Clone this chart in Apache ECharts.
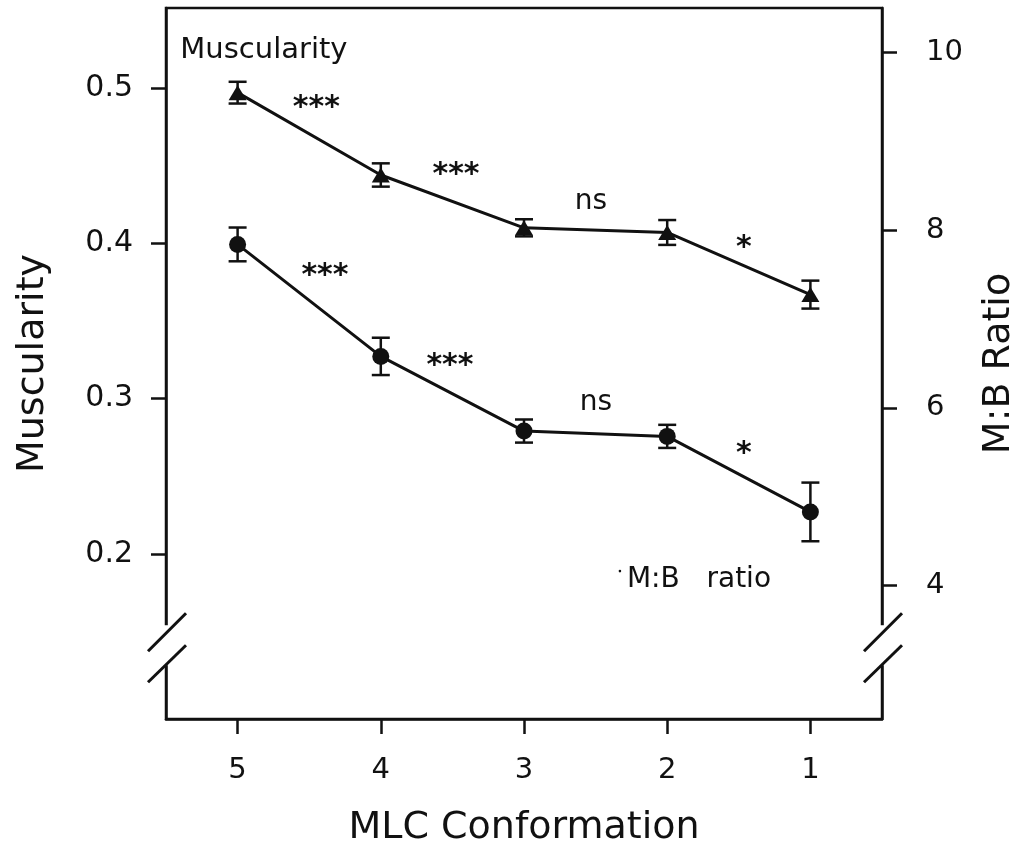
<!DOCTYPE html>
<html>
<head>
<meta charset="utf-8">
<script src="https://cdn.jsdelivr.net/npm/echarts@6/dist/echarts.min.js"></script>
<style>
  html, body { margin: 0; padding: 0; background: #fff; }
  #chart { width: 1020px; height: 858px; }
</style>
</head>
<body>
<div id="chart"></div>
<script>
// MLC conformation scores (x axis runs 5 -> 1)
const conformation = [5, 4, 3, 2, 1]
// Muscularity (left axis), mean and SE
const muscularity = [0.497, 0.444, 0.410, 0.407, 0.367]
const muscularityErr = [0.007, 0.0075, 0.0055, 0.008, 0.009]
// M:B ratio (right axis), mean and SE
const mbRatio = [7.84, 6.58, 5.74, 5.68, 4.83]
const mbRatioErr = [0.19, 0.21, 0.13, 0.13, 0.33]
// tick labels
const xTicks = [1, 2, 3, 4, 5]
const leftTicks = [0.2, 0.3, 0.4, 0.5]
const rightTicks = [4, 6, 8, 10]
// significance labels between neighbouring scores
const sigTop = ['***', '***', 'ns', '*']
const sigBottom = ['***', '***', 'ns', '*']

const FONT = 'DejaVu Sans'
const INK = '#111'

let chart = echarts.init(document.getElementById('chart'))

function pairs(ys) {
  return conformation.map((x, i) => [x, ys[i]])
}
function errData(ys, es) {
  return conformation.map((x, i) => [x, ys[i] - es[i], ys[i] + es[i]])
}
function errorBars(yAxisIndex, data) {
  return {
    type: 'custom',
    xAxisIndex: 0,
    yAxisIndex: yAxisIndex,
    data: data,
    z: 3,
    silent: true,
    renderItem(params, api) {
      let lo = api.coord([api.value(0), api.value(1)])
      let hi = api.coord([api.value(0), api.value(2)])
      let w = 9
      let style = { stroke: INK, lineWidth: 2.5 }
      return {
        type: 'group',
        children: [
          { type: 'line', shape: { x1: lo[0], y1: lo[1], x2: hi[0], y2: hi[1] }, style },
          { type: 'line', shape: { x1: lo[0] - w, y1: lo[1], x2: lo[0] + w, y2: lo[1] }, style },
          { type: 'line', shape: { x1: hi[0] - w, y1: hi[1], x2: hi[0] + w, y2: hi[1] }, style }
        ]
      }
    }
  }
}

let axisCommon = {
  axisLine: { show: true, lineStyle: { color: INK, width: 2.5 } },
  splitLine: { show: false },
  nameTextStyle: { fontFamily: FONT, fontSize: 38, color: INK },
  nameLocation: 'middle'
}
let tickStyle = { color: INK, width: 2.5 }

let option = {
  backgroundColor: '#fff',
  animation: false,
  grid: {
    left: 166,
    right: 138,
    top: 8,
    bottom: 139,
    outerBoundsMode: 'none',
    containLabel: false,
    show: true,
    borderColor: INK,
    borderWidth: 2.5
  },
  xAxis: [
    Object.assign({}, axisCommon, {
      type: 'value',
      inverse: true,
      min: 0.5,
      max: 5.5,
      name: 'MLC Conformation',
      nameGap: 90,
      axisTick: { show: true, length: 15, customValues: xTicks, lineStyle: tickStyle },
      axisLabel: { customValues: xTicks, margin: 37, fontFamily: FONT, fontSize: 29, color: INK }
    })
  ],
  yAxis: [
    Object.assign({}, axisCommon, {
      type: 'value',
      position: 'left',
      min: 0.0938,
      max: 0.5515,
      name: 'Muscularity',
      nameGap: 114,
      nameRotate: 90,
      axisTick: { show: true, length: 15, customValues: leftTicks, lineStyle: tickStyle },
      axisLabel: {
        customValues: leftTicks, margin: 33, fontFamily: FONT, fontSize: 30, color: INK,
        formatter: v => v.toFixed(1)
      }
    }),
    Object.assign({}, axisCommon, {
      type: 'value',
      position: 'right',
      min: 2.5,
      max: 10.5,
      name: 'M:B Ratio',
      nameGap: 98,
      nameRotate: 90,
      axisTick: { show: true, length: 15, customValues: rightTicks, lineStyle: tickStyle },
      axisLabel: { customValues: rightTicks, margin: 44, fontFamily: FONT, fontSize: 29, color: INK }
    })
  ],
  series: [
    {
      name: 'Muscularity',
      type: 'line',
      yAxisIndex: 0,
      data: pairs(muscularity),
      symbol: 'triangle',
      symbolSize: [18, 15],
      itemStyle: { color: INK },
      lineStyle: { color: INK, width: 3 },
      z: 4
    },
    {
      name: 'M:B ratio',
      type: 'line',
      yAxisIndex: 1,
      data: pairs(mbRatio),
      symbol: 'circle',
      symbolSize: 17,
      itemStyle: { color: INK },
      lineStyle: { color: INK, width: 3 },
      z: 4
    },
    errorBars(0, errData(muscularity, muscularityErr)),
    errorBars(1, errData(mbRatio, mbRatioErr))
  ]
}
chart.setOption(option)

// annotations placed in data space (x, left-axis value)
const notes = [
  { text: 'Muscularity', x: 5.40, y: 0.524, size: 29, align: 'left', weight: 'normal' },
  { text: sigTop[0], x: 4.45, y: 0.487, size: 30, align: 'center', weight: 'bold' },
  { text: sigTop[1], x: 3.475, y: 0.444, size: 30, align: 'center', weight: 'bold' },
  { text: sigTop[2], x: 2.532, y: 0.4266, size: 28, align: 'center', weight: 'normal' },
  { text: sigTop[3], x: 1.464, y: 0.397, size: 30, align: 'center', weight: 'bold' },
  { text: sigBottom[0], x: 4.39, y: 0.379, size: 30, align: 'center', weight: 'bold' },
  { text: sigBottom[1], x: 3.517, y: 0.321, size: 30, align: 'center', weight: 'bold' },
  { text: sigBottom[2], x: 2.497, y: 0.2972, size: 28, align: 'center', weight: 'normal' },
  { text: sigBottom[3], x: 1.464, y: 0.2645, size: 30, align: 'center', weight: 'bold' },
  { text: 'M:B   ratio', x: 2.281, y: 0.1832, size: 28, align: 'left', weight: 'normal' }
]

function px(x, y) {
  return chart.convertToPixel({ xAxisIndex: 0, yAxisIndex: 0 }, [x, y])
}

let graphics = notes.map(n => {
  let p = px(n.x, n.y)
  return {
    type: 'text',
    x: p[0],
    y: p[1],
    z: 10,
    style: {
      text: n.text,
      fontFamily: FONT,
      fontSize: n.size,
      fontWeight: n.weight,
      fill: INK,
      align: n.align,
      verticalAlign: 'middle'
    }
  }
})
// tiny stray dot before "M:B ratio"
let dot = px(2.33, 0.189)
graphics.push({ type: 'circle', shape: { cx: dot[0], cy: dot[1], r: 1.3 }, style: { fill: INK }, z: 10 })

// axis break marks on both vertical spines
const breakValue = 0.14
let by = px(0.5, breakValue)[1]
let xl = px(5.5, breakValue)[0]
let xr = px(0.5, breakValue)[0]
;[xl, xr].forEach(x0 => {
  graphics.push({ type: 'rect', shape: { x: x0 - 4, y: by - 22, width: 8, height: 40 }, style: { fill: '#fff' }, z: 9 })
  graphics.push({ type: 'line', shape: { x1: x0 - 18, y1: by + 4, x2: x0 + 20, y2: by - 34 }, style: { stroke: INK, lineWidth: 3 }, z: 10 })
  graphics.push({ type: 'line', shape: { x1: x0 - 18, y1: by + 35, x2: x0 + 20, y2: by - 2 }, style: { stroke: INK, lineWidth: 3 }, z: 10 })
})

chart.setOption({ graphic: graphics })
</script>
</body>
</html>
